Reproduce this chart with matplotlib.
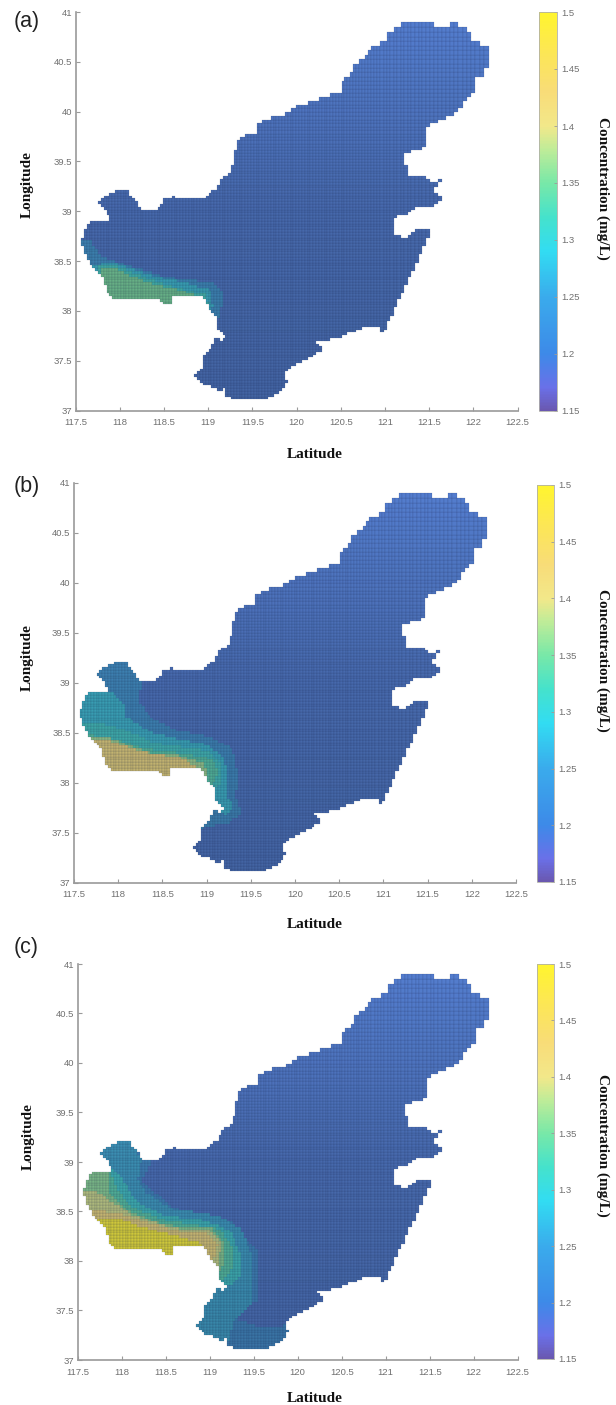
"""
Three panels of surface concentration over the gulf, drawn on a stretched mesh.
Run: python3 plot.py
"""
import numpy as np
import matplotlib
matplotlib.use("Agg")
import matplotlib.pyplot as plt
from matplotlib.path import Path
from matplotlib.collections import PolyCollection
from matplotlib.colors import LinearSegmentedColormap, Normalize
from matplotlib.cm import ScalarMappable

W, H = 616, 1405

# coastline, lon/lat
coast_lon = [117.574, 117.619, 117.687, 117.879, 117.868, 117.822, 117.766, 117.856, 117.969, 118.083,
             118.150, 118.252, 118.365, 118.456, 118.512, 118.603, 118.705, 118.942, 119.101, 119.157,
             119.270, 119.282, 119.338, 119.440, 119.542, 119.554, 119.700, 119.847, 119.960, 120.153,
             120.300, 120.492, 120.515, 120.605, 120.628, 120.809, 120.854, 121.001, 121.024, 121.148,
             121.205, 121.284, 121.544, 121.567, 121.736, 121.713, 121.827, 121.793, 121.929, 121.963,
             122.019, 122.155, 122.189, 122.110, 122.042, 121.997, 121.884, 121.850, 121.703, 121.589,
             121.454, 121.465, 121.488, 121.397, 121.227, 121.205, 121.250, 121.261, 121.431, 121.567,
             121.703, 121.589, 121.567, 121.658, 121.589, 121.476, 121.341, 121.261, 121.092, 121.092,
             121.114, 121.250, 121.363, 121.544, 120.978, 120.944, 120.752, 120.605, 120.458, 120.232,
             120.300, 120.153, 119.926, 119.847, 119.892, 119.813, 119.666, 119.553, 119.440, 119.270,
             119.191, 119.191, 119.168, 119.055, 118.931, 118.852, 118.874, 118.931, 118.942, 119.044,
             119.067, 119.168, 119.191, 119.101, 119.101, 118.999, 118.942, 118.829, 118.603, 118.569,
             118.490, 118.456, 118.309, 118.083, 117.924, 117.856, 117.811, 117.721, 117.641, 117.585]
coast_lat = [38.712, 38.842, 38.913, 38.913, 38.953, 39.033, 39.083, 39.164, 39.214, 39.214,
             39.133, 39.013, 39.013, 39.043, 39.123, 39.143, 39.123, 39.133, 39.234, 39.334,
             39.385, 39.545, 39.716, 39.786, 39.796, 39.887, 39.937, 39.967, 40.037, 40.098,
             40.148, 40.188, 40.318, 40.348, 40.449, 40.589, 40.670, 40.690, 40.800, 40.850,
             40.930, 40.890, 40.890, 40.840, 40.840, 40.920, 40.920, 40.840, 40.830, 40.750,
             40.690, 40.670, 40.539, 40.348, 40.338, 40.188, 40.117, 40.017, 39.937, 39.896,
             39.836, 39.716, 39.686, 39.615, 39.585, 39.495, 39.465, 39.364, 39.344, 39.294,
             39.344, 39.274, 39.194, 39.133, 39.073, 39.043, 39.043, 38.963, 38.943, 38.842,
             38.762, 38.732, 38.812, 38.832, 37.778, 37.828, 37.828, 37.778, 37.728, 37.688,
             37.617, 37.527, 37.427, 37.336, 37.286, 37.186, 37.115, 37.125, 37.125, 37.115,
             37.156, 37.276, 37.176, 37.226, 37.276, 37.336, 37.387, 37.427, 37.537, 37.658,
             37.738, 37.708, 37.758, 37.828, 37.929, 38.029, 38.139, 38.160, 38.160, 38.059,
             38.079, 38.130, 38.130, 38.109, 38.119, 38.190, 38.340, 38.411, 38.511, 38.611]

# concentration bands per panel: (value, outline), painted in this order
body_a = 1.19
bands_a = [
    (1.24, [(117.50, 38.71), (117.68, 38.71), (117.78, 38.55), (118.16, 38.44), (118.53, 38.34), (119.06, 38.28),
            (119.18, 38.18), (119.12, 37.91), (117.50, 37.91)]),
    (1.28, [(117.50, 38.46), (117.72, 38.46), (117.93, 38.49), (118.35, 38.36), (118.76, 38.28), (119.02, 38.21),
            (119.06, 38.04), (119.00, 37.95), (117.50, 37.95)]),
    (1.31, [(117.75, 38.44), (117.93, 38.46), (118.25, 38.35), (118.60, 38.24), (118.96, 38.17), (119.00, 38.05),
            (117.75, 37.95)]),
    (1.35, [(117.78, 38.41), (117.93, 38.44), (118.16, 38.34), (118.42, 38.26), (118.68, 38.21), (118.91, 38.14),
            (118.91, 37.94), (117.78, 37.94)]),
]

body_b = 1.19
bands_b = [
    (1.235, [(117.50, 39.30), (118.02, 39.30), (118.27, 39.03), (118.23, 38.83), (118.36, 38.66), (118.63, 38.53),
             (119.04, 38.46), (119.29, 38.34), (119.36, 38.09), (119.33, 37.86), (119.40, 37.69), (119.23, 37.59),
             (119.00, 37.56), (118.85, 37.43), (118.59, 37.36), (117.50, 37.36)]),
    (1.28, [(117.50, 38.91), (117.91, 38.91), (118.08, 38.79), (118.09, 38.66), (118.36, 38.51), (118.66, 38.44),
            (118.97, 38.39), (119.19, 38.26), (119.23, 38.09), (119.21, 37.89), (119.31, 37.76), (119.21, 37.68),
            (119.08, 37.76), (118.60, 37.80), (117.50, 37.80)]),
    (1.305, [(117.50, 38.60), (117.80, 38.60), (118.10, 38.52), (118.40, 38.40), (118.70, 38.36), (119.00, 38.32),
             (119.18, 38.18), (119.16, 38.00), (119.05, 37.90), (117.50, 37.90)]),
    (1.33, [(117.50, 38.48), (117.66, 38.48), (117.94, 38.44), (118.32, 38.34), (118.74, 38.29), (119.04, 38.24),
            (119.14, 38.13), (119.08, 37.99), (118.98, 37.95), (117.50, 37.95)]),
    (1.37, [(117.50, 38.46), (117.68, 38.46), (117.90, 38.45), (118.10, 38.38), (118.38, 38.30), (118.72, 38.27),
            (118.97, 38.19), (119.02, 38.06), (118.95, 37.95), (117.50, 37.95)]),
    (1.42, [(117.50, 38.43), (117.70, 38.43), (117.83, 38.44), (118.02, 38.38), (118.21, 38.33), (118.44, 38.28),
            (118.70, 38.26), (118.91, 38.14), (118.91, 37.90), (117.50, 37.90)]),
]

body_c = 1.19
bands_c = [
    (1.225, [(117.50, 39.30), (118.20, 39.30), (118.37, 39.04), (118.22, 38.81), (118.59, 38.54), (119.24, 38.40),
             (119.54, 38.10), (119.54, 37.60), (119.24, 37.43), (119.58, 37.33), (119.96, 37.36), (119.96, 37.02),
             (117.50, 37.02)]),
    (1.26, [(117.50, 39.30), (118.03, 39.30), (118.23, 39.02), (118.18, 38.83), (118.27, 38.70), (118.56, 38.53),
            (119.09, 38.46), (119.35, 38.33), (119.48, 38.07), (119.48, 37.57), (119.28, 37.40), (119.20, 37.17),
            (118.70, 37.20), (117.50, 37.20)]),
    (1.30, [(117.50, 38.95), (117.89, 38.95), (118.05, 38.78), (118.16, 38.61), (118.48, 38.46), (118.94, 38.41),
            (119.24, 38.31), (119.35, 38.07), (119.35, 37.84), (119.20, 37.74), (118.90, 37.70), (117.50, 37.70)]),
    (1.33, [(117.50, 38.92), (117.87, 38.92), (117.95, 38.72), (118.10, 38.56), (118.44, 38.42), (118.80, 38.37),
            (119.12, 38.32), (119.26, 38.13), (119.25, 37.92), (119.14, 37.80), (117.50, 37.80)]),
    (1.36, [(117.50, 38.90), (117.84, 38.90), (117.86, 38.68), (118.06, 38.51), (118.40, 38.39), (118.71, 38.34),
            (119.01, 38.34), (119.18, 38.18), (119.16, 37.97), (119.09, 37.87), (118.90, 37.85), (117.50, 37.85)]),
    (1.39, [(117.50, 38.70), (117.70, 38.72), (117.88, 38.60), (118.14, 38.46), (118.44, 38.37), (118.71, 38.32),
            (118.99, 38.32), (119.13, 38.18), (119.10, 37.98), (119.02, 37.90), (117.50, 37.90)]),
    (1.42, [(117.50, 38.51), (117.70, 38.51), (117.99, 38.48), (118.22, 38.41), (118.48, 38.34), (118.71, 38.29),
            (118.97, 38.29), (119.09, 38.18), (119.05, 38.04), (119.00, 37.95), (117.50, 37.95)]),
    (1.50, [(117.50, 38.43), (117.78, 38.43), (117.95, 38.44), (118.18, 38.36), (118.44, 38.29), (118.67, 38.24),
            (118.90, 38.18), (118.94, 37.97), (117.50, 37.97)]),
]

x_ticks = [117.5, 118, 118.5, 119, 119.5, 120, 120.5, 121, 121.5, 122, 122.5]
x_tick_labels = ["117.5", "118", "118.5", "119", "119.5", "120", "120.5", "121", "121.5", "122", "122.5"]
y_ticks = [37, 37.5, 38, 38.5, 39, 39.5, 40, 40.5, 41]
y_tick_labels = ["37", "37.5", "38", "38.5", "39", "39.5", "40", "40.5", "41"]
cbar_ticks = [1.15, 1.2, 1.25, 1.3, 1.35, 1.4, 1.45, 1.5]
cbar_tick_labels = ["1.15", "1.2", "1.25", "1.3", "1.35", "1.4", "1.45", "1.5"]

# colour stops
cmap_vals = [1.15, 1.17, 1.20, 1.25, 1.29, 1.32, 1.35, 1.38, 1.40, 1.43, 1.47, 1.50]
cmap_cols = ["#6a58b0", "#6a70e8", "#3d8ae8", "#3aabec", "#32dcf2", "#45e2cc",
             "#78e8a8", "#c0ec98", "#f2e88a", "#f8dc78", "#fde850", "#fff52e"]

GRAY = "#707070"
AXIS = "#9a9a9a"

cmap = LinearSegmentedColormap.from_list(
    "conc", [(round((v - 1.15) / 0.35, 6), c) for v, c in zip(cmap_vals, cmap_cols)])
norm = Normalize(1.15, 1.5)

# mesh is fine over most of the gulf and opens up towards the north-east
lon_step = np.concatenate([np.full(97, 0.032), np.linspace(0.032, 0.052, 41)])
lat_step = np.concatenate([np.full(86, 0.028), np.linspace(0.028, 0.050, 42)])
lon_edges = 117.5 + np.concatenate([[0], np.cumsum(lon_step)])
lat_edges = 37.0 + np.concatenate([[0], np.cumsum(lat_step)])
lon_cent, lat_cent = np.meshgrid(0.5 * (lon_edges[:-1] + lon_edges[1:]), 0.5 * (lat_edges[:-1] + lat_edges[1:]))
cent_pts = np.column_stack([lon_cent.ravel(), lat_cent.ravel()])
inside = Path(list(zip(coast_lon, coast_lat))).contains_points(cent_pts).reshape(lon_cent.shape)

# corners of the wet cells only
rows, cols = np.nonzero(inside)
cell_verts = np.stack([
    np.column_stack([lon_edges[cols], lat_edges[rows]]),
    np.column_stack([lon_edges[cols + 1], lat_edges[rows]]),
    np.column_stack([lon_edges[cols + 1], lat_edges[rows + 1]]),
    np.column_stack([lon_edges[cols], lat_edges[rows + 1]]),
], axis=1)

# surface lighting: the mapped colours look dimmer than the colourbar, less so up north
shade = np.interp(lat_cent[inside], [37.0, 39.0, 41.0], [0.70, 0.74, 0.90])


def band_field(body, bands):
    field = np.full(lon_cent.shape, float(body))
    for val, outline in bands:
        hit = Path(outline).contains_points(cent_pts).reshape(lon_cent.shape)
        field[hit] = val
    return field[inside]


def px_axes(fig, x0, x1, y0, y1):
    return fig.add_axes([x0 / W, 1 - y1 / H, (x1 - x0) / W, (y1 - y0) / H])


def draw_panel(fig, letter, body, bands, box, cbox, letter_y, lat_y, lon_xy, conc_y):
    ax = px_axes(fig, *box)
    values = band_field(body, bands)
    faces = cmap(norm(values))
    # high values read a little brighter, and everything a little greyer than the bar
    lit = shade + np.interp(values, [1.30, 1.50], [0.0, 0.08])
    rgb = faces[:, :3] * lit[:, None] + 0.03
    grey = rgb.mean(axis=1, keepdims=True)
    faces[:, :3] = np.clip(0.88 * rgb + 0.12 * grey, 0, 1)
    ax.add_collection(PolyCollection(cell_verts, facecolors=faces,
                                     edgecolors=(0.10, 0.14, 0.28, 0.28), linewidths=0.3))
    ax.set_xlim(117.5, 122.5)
    ax.set_ylim(37, 41)
    ax.set_xticks(x_ticks, x_tick_labels)
    ax.set_yticks(y_ticks, y_tick_labels)
    ax.tick_params(direction="in", length=3, width=0.8, color=AXIS, labelcolor=GRAY, labelsize=6.8)
    ax.tick_params(axis="x", pad=5.5)
    ax.tick_params(axis="y", pad=2.5)
    for lab in ax.get_xticklabels() + ax.get_yticklabels():
        lab.set_family("Liberation Sans")
    for side in ["top", "right"]:
        ax.spines[side].set_visible(False)
    for side in ["left", "bottom"]:
        ax.spines[side].set_color(AXIS)
        ax.spines[side].set_linewidth(1.2)

    cax = px_axes(fig, *cbox)
    cb = fig.colorbar(ScalarMappable(norm=norm, cmap=cmap), cax=cax)
    cb.set_ticks(cbar_ticks, labels=cbar_tick_labels)
    cb.ax.tick_params(direction="in", length=2, width=0.6, color=AXIS, labelcolor=GRAY, labelsize=6.8, pad=3)
    for lab in cb.ax.get_yticklabels():
        lab.set_family("Liberation Sans")
    cb.outline.set_edgecolor("#b0b0a8")
    cb.outline.set_linewidth(0.6)

    fig.text(14 / W, 1 - letter_y / H, letter, fontsize=15.5, family="Liberation Sans",
             ha="left", va="center", color="#222222")
    serif = dict(family="Liberation Serif", fontweight="bold", fontsize=11, color="#111111",
                 ha="center", va="center")
    fig.text(315 / W, 1 - lat_y / H, "Latitude", **serif)
    fig.text(lon_xy[0] / W, 1 - lon_xy[1] / H, "Longitude", rotation=90, **serif)
    fig.text(603 / W, 1 - conc_y / H, "Concentration (mg/L)", rotation=270, **serif)


fig = plt.figure(figsize=(W / 100, H / 100), dpi=100)
draw_panel(fig, "(a)", body_a, bands_a, (75.5, 517.7, 12, 410.5), (539, 557, 12, 411), 22, 454, (27, 185), 188)
draw_panel(fig, "(b)", body_b, bands_b, (74, 516, 483, 882.5), (537, 554, 485, 882), 486, 925, (27, 658), 660)
draw_panel(fig, "(c)", body_c, bands_c, (77.7, 517.7, 964, 1360), (537, 554, 964, 1359), 948, 1399, (28, 1137), 1145)
fig.savefig("out.png", dpi=100)
